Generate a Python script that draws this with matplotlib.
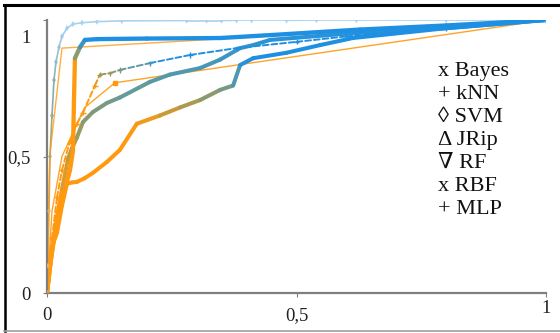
import numpy as np
import matplotlib
matplotlib.use("Agg")
import matplotlib.pyplot as plt
from matplotlib.collections import LineCollection
from matplotlib.colors import LinearSegmentedColormap
from matplotlib.lines import Line2D
from matplotlib.transforms import ScaledTranslation

# ROC points (false positive rate, true positive rate)
svm_fpr = [0, 0.002, 0.004, 0.006, 0.01, 0.014, 0.018, 0.024, 0.03, 0.04, 0.052, 0.07, 0.1, 0.15,
           0.28, 0.32, 0.35, 0.38, 0.41, 0.48, 0.54, 0.62, 0.8, 1]
svm_tpr = [0, 0.1, 0.3, 0.5, 0.65, 0.78, 0.846, 0.9, 0.94, 0.97, 0.985, 0.99, 0.994, 0.997,
           0.998, 0.998, 0.998, 0.999, 0.999, 0.999, 1, 1, 1, 1]

jrip_fpr = [0, 0.002, 0.004, 0.006, 0.03, 1]
jrip_tpr = [0, 0.2, 0.38, 0.51, 0.897, 1]

knn_fpr = [0, 0.01, 0.03, 0.06, 0.076, 0.136, 1]
knn_tpr = [0, 0.3, 0.5, 0.62, 0.68, 0.77, 1]

rf_fpr = [0, 0.006, 0.016, 0.026, 0.036, 0.046, 0.052, 0.054, 0.056, 0.066, 0.076, 0.1, 0.2,
          0.347, 0.45, 0.627, 0.8, 1]
rf_tpr = [0, 0.1, 0.22, 0.3, 0.38, 0.45, 0.52, 0.7, 0.86, 0.9, 0.927, 0.93, 0.932,
          0.934, 0.945, 0.965, 0.98, 1]

rbf_fpr = [0, 0.01, 0.02, 0.03, 0.045, 0.06, 0.072, 0.096, 0.106, 0.126, 0.146, 0.206, 0.287,
           0.38, 0.5, 0.6, 0.8, 1]
rbf_tpr = [0, 0.2, 0.35, 0.45, 0.55, 0.62, 0.66, 0.76, 0.8, 0.805, 0.817, 0.842, 0.872,
           0.897, 0.92, 0.94, 0.97, 1]

mlp_fpr = [0, 0.01, 0.02, 0.03, 0.042, 0.05, 0.06, 0.072, 0.092, 0.12, 0.146, 0.206, 0.246,
           0.307, 0.347, 0.387, 0.413, 0.447, 0.6, 0.8, 1]
mlp_tpr = [0, 0.15, 0.28, 0.38, 0.49, 0.53, 0.57, 0.626, 0.663, 0.696, 0.716, 0.773, 0.8,
           0.824, 0.855, 0.897, 0.908, 0.927, 0.95, 0.97, 1]

bayes_fpr = [0, 0.004, 0.01, 0.02, 0.03, 0.04, 0.05, 0.06, 0.075, 0.092, 0.12, 0.146, 0.18,
             0.226, 0.267, 0.307, 0.347, 0.373, 0.387, 0.413, 0.48, 0.547, 0.613, 0.8, 1]
bayes_tpr = [0, 0.06, 0.17, 0.22, 0.32, 0.4, 0.405, 0.407, 0.42, 0.44, 0.48, 0.524, 0.62,
             0.65, 0.68, 0.707, 0.744, 0.76, 0.835, 0.86, 0.88, 0.908, 0.934, 0.97, 1]

legend_lines = ["x Bayes", "+ kNN", "\u25ca SVM", "\u0394 JRip", "\u2207 RF", "x RBF", "+ MLP"]

orange = "#FF9A10"
cmap = LinearSegmentedColormap.from_list(
    "roc", ["#FF9A10", "#A39A55", "#5C9AA2", "#1E90E4"])
cmap_light = LinearSegmentedColormap.from_list(
    "roc_light", ["#E8B060", "#A8A870", "#7FAFB8", "#A8D2F0"])

serif = ["Liberation Serif", "DejaVu Serif"]
plt.rcParams["font.family"] = serif

fig = plt.figure(figsize=(5.6, 3.33), dpi=100)
ax = fig.add_axes([47 / 560, 40 / 333, 499 / 560, 273 / 333])


def gradient_line(x, y, lo, hi, lw, cm=cmap, ls="solid", z=2):
    x = np.asarray(x, float)
    y = np.asarray(y, float)
    pts = np.column_stack([x, y]).reshape(-1, 1, 2)
    segs = np.concatenate([pts[:-1], pts[1:]], axis=1)
    ymid = (y[:-1] + y[1:]) / 2
    t = np.clip((ymid - lo) / (hi - lo), 0, 1)
    lc = LineCollection(segs, colors=cm(t), linewidths=lw, linestyles=ls,
                        capstyle="round", joinstyle="round", zorder=z)
    ax.add_collection(lc)
    return np.clip((y - lo) / (hi - lo), 0, 1)


# thin curves
t = gradient_line(svm_fpr, svm_tpr, 0.3, 0.99, 1.2, cm=cmap_light)
ax.scatter(svm_fpr, svm_tpr, c=cmap_light(t), marker="d", s=10, zorder=3, linewidths=0)
ax.plot(jrip_fpr, jrip_tpr, color=orange, lw=1.0, alpha=0.8, zorder=2)
ax.plot(knn_fpr, knn_tpr, color=orange, lw=1.0, alpha=0.9, zorder=2)
ax.plot(knn_fpr[5], knn_tpr[5], "s", color=orange, ms=3, zorder=3)

# thick curves
gradient_line(bayes_fpr, bayes_tpr, 0.62, 0.86, 2.9)
gradient_line(mlp_fpr, mlp_tpr, 0.35, 0.98, 2.9)
gradient_line(rf_fpr, rf_tpr, 0.84, 0.93, 3.1)
t = gradient_line(rbf_fpr, rbf_tpr, 0.77, 0.86, 1.4, ls=(0, (3, 1.5)))
ax.scatter(rbf_fpr, rbf_tpr, c=cmap(t), marker="+", s=14, zorder=3, linewidths=1)

ax.set_xlim(0, 1)
ax.set_ylim(0, 1)
for s in ["top", "right"]:
    ax.spines[s].set_visible(False)
for s in ["left", "bottom"]:
    ax.spines[s].set_color("#7F7F7F")
    ax.spines[s].set_linewidth(1.6)

ax.set_xticks([0, 0.5, 1])
ax.set_xticklabels(["0", "0,5", "1"], fontfamily=serif)
ax.set_yticks([0, 0.5, 1])
ax.set_yticklabels(["0", "0,5", "1"], fontfamily=serif)
ax.tick_params(length=3, color="#7F7F7F", labelsize=13.5, labelcolor="#222222")
ax.tick_params(axis="y", pad=9)
ax.tick_params(axis="x", pad=7)
# the "1" labels sit a bit off their ticks in the original
lab = ax.get_yticklabels()[2]
lab.set_transform(lab.get_transform() + ScaledTranslation(0, -0.16, fig.dpi_scale_trans))
lab = ax.get_xticklabels()[2]
lab.set_transform(lab.get_transform() + ScaledTranslation(0, 0.07, fig.dpi_scale_trans))

ax.text(0.783, 0.845, "\n".join(legend_lines), fontsize=16, va="top", ha="left",
        linespacing=1.28, color="#111111", fontfamily=serif)

# picture frame
fig.add_artist(Line2D([0.008, 1], [0.986, 0.986], color="black", lw=2.2, transform=fig.transFigure))
fig.add_artist(Line2D([0.009, 0.009], [0.006, 0.986], color="black", lw=1.8, transform=fig.transFigure))
fig.add_artist(Line2D([0.008, 1], [0.006, 0.006], color="#A0A0A0", lw=1.2, transform=fig.transFigure))

fig.savefig("out.png", dpi=100)
